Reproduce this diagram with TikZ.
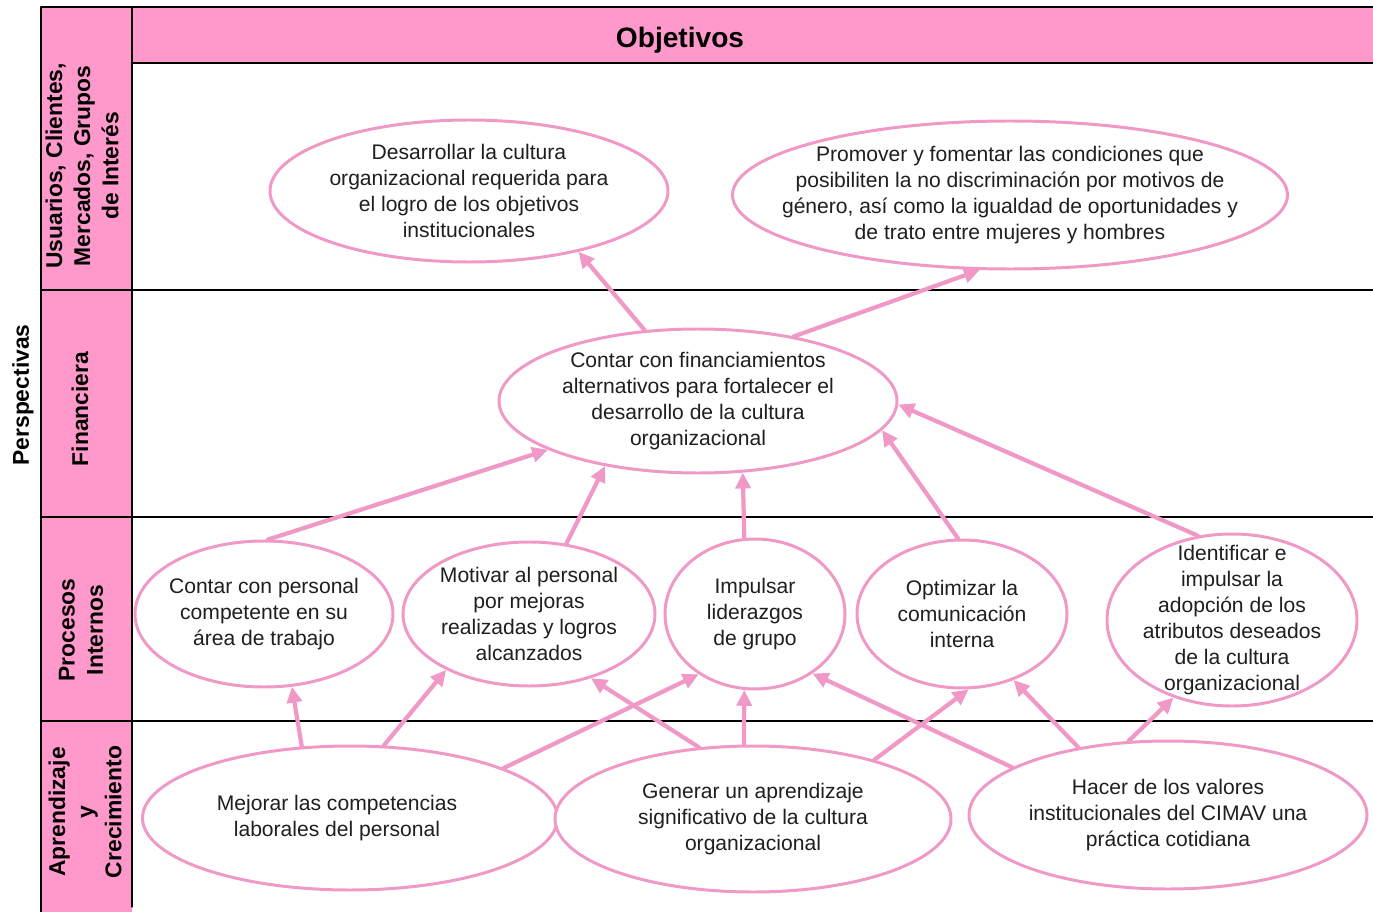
\documentclass[tikz,border=0pt]{standalone}
\usepackage{fontspec}
\setmainfont{Liberation Sans}
\usetikzlibrary{shapes.geometric,arrows.meta}
\definecolor{bandpink}{HTML}{FF99CC}
\definecolor{ovalpink}{RGB}{240,152,198}

\begin{document}
\begin{tikzpicture}[x=0.02cm,y=-0.02cm,line cap=round,line join=round,
  oval/.style 2 args={ellipse,draw=ovalpink,line width=1.7pt,fill=white,
    minimum width=#1*0.02cm,minimum height=#2*0.02cm,inner sep=0pt},
  otext/.style={align=center,inner sep=0pt,text=black!88,
    font=\fontsize{12}{14.8}\selectfont},
  head/.style={align=center,inner sep=0pt,
    font=\fontsize{13}{16}\bfseries\selectfont},
  link/.style={draw=ovalpink,line width=2.4pt,-{Triangle[length=9pt,width=8.5pt]}}]
  \useasboundingbox (0,0) rectangle (1373,912);
  % bands
  \fill[bandpink] (41,7) rectangle (132,912);
  \fill[bandpink] (132,7) rectangle (1373,63);
  \draw[line width=0.7pt] (41,912) -- (41,7) -- (1373,7);
  \draw[line width=0.7pt] (132,907) -- (132,7);
  \draw[line width=0.7pt] (132,63) -- (1373,63);
  \foreach \y in {290,517,721}
    \draw[line width=0.6pt] (41,\y) -- (1373,\y);
  % headings
  \node[head,font=\fontsize{16}{18}\bfseries\selectfont] (objh) at (680,40) {Objetivos};
  \node[head,rotate=90] (persp) at (23,395) {Perspectivas};
  \node[head,rotate=90] (usu) at (82,166) {Usuarios, Clientes,\\Mercados, Grupos\\de Interés};
  \node[head,rotate=90] (fina) at (80,409) {Financiera};
  \node[head,rotate=90] (proc) at (81,630) {Procesos\\Internos};
  \node[head,rotate=90] (apre) at (85,812) {Aprendizaje\\y\\Crecimiento};
  % objetivos
  \node[oval={398}{142}] (desa) at (469,191) {};
  \node[otext] (desa-t) at (desa) {Desarrollar la cultura\\organizacional requerida para\\el logro de los objetivos\\institucionales};
  \node[oval={555}{148}] (prom) at (1010,195) {};
  \node[otext] (prom-t) at (prom) {Promover y fomentar las condiciones que\\posibiliten la no discriminación por motivos de\\género, así como la igualdad de oportunidades y\\de trato entre mujeres y hombres};
  \node[oval={398}{144}] (fin) at (698,401) {};
  \node[otext] (fin-t) at (fin) {Contar con financiamientos\\alternativos para fortalecer el\\desarrollo de la cultura\\organizacional};
  \node[oval={258}{146}] (pers) at (264,614) {};
  \node[otext] (pers-t) at (pers) {Contar con personal\\competente en su\\área de trabajo};
  \node[oval={252}{144}] (moti) at (529,614) {};
  \node[otext] (moti-t) at (moti) {Motivar al personal\\por mejoras\\realizadas y logros\\alcanzados};
  \node[oval={180}{150}] (impu) at (755,614) {};
  \node[otext] (impu-t) at (impu) {Impulsar\\liderazgos\\de grupo};
  \node[oval={210}{148}] (opti) at (962,614) {};
  \node[otext] (opti-t) at (opti) {Optimizar la\\comunicación\\interna};
  \node[oval={250}{172}] (iden) at (1232,620) {};
  \node[otext] (iden-t) at (iden) {Identificar e\\impulsar la\\adopción de los\\atributos deseados\\de la cultura\\organizacional};
  \node[oval={415}{144}] (mejo) at (350,818) {};
  \node[otext] (mejo-t) at (337,818) {Mejorar las competencias\\laborales del personal};
  \node[oval={396}{146}] (gene) at (753,819) {};
  \node[otext] (gene-t) at (gene) {Generar un aprendizaje\\significativo de la cultura\\organizacional};
  \node[oval={398}{148}] (hace) at (1168,815) {};
  \node[otext] (hace-t) at (hace) {Hacer de los valores\\institucionales del CIMAV una\\práctica cotidiana};
  % relaciones causa-efecto
  \foreach \a/\b in {fin.127.5/desa.-29, fin.34.7/prom.-112.6,
      pers.87/fin.-162.1, moti.62.2/fin.-145.2, impu.98.5/fin.-58.1,
      opti.93.1/fin.-9.8, iden.112/fin.-1.7,
      mejo.124.8/pers.-69.3, mejo.65.7/moti.-146.2, mejo.18.8/impu.-133.1,
      gene.127/moti.-46.4, gene.97/impu.-98.2, gene.26/opti.-85.4,
      hace.163.7/impu.-46.8, hace.143.8/opti.-52.9, hace.118.5/iden.-127.1}
    \draw[link] (\a) -- (\b);
\end{tikzpicture}
\end{document}
